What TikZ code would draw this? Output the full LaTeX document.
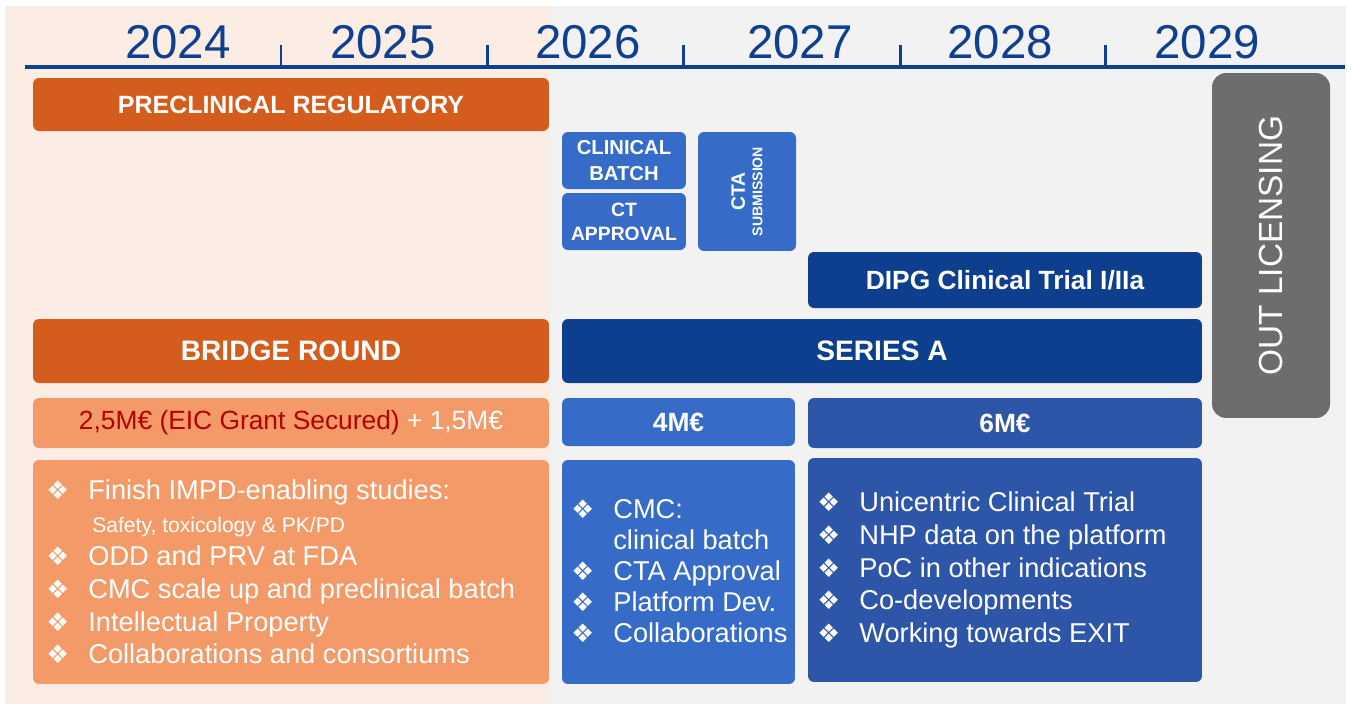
\documentclass[tikz,border=0pt]{standalone}
\usepackage{fontspec}
\setmainfont{Liberation Sans}
\newfontfamily\dejavu{DejaVu Sans}
\usepackage{tikz}
\usetikzlibrary{positioning}

\definecolor{PeachBg}{HTML}{FBEDE4}
\definecolor{GreyBg}{HTML}{F2F2F2}
\definecolor{RustOrange}{HTML}{D45D1E}
\definecolor{SoftOrange}{HTML}{F49A68}
\definecolor{MidBlue}{HTML}{366CC8}
\definecolor{NavyBlue}{HTML}{0E3F8E}
\definecolor{DeepBlue}{HTML}{2D56A8}
\definecolor{ExitGrey}{HTML}{6D6D6D}
\definecolor{YearBlue}{HTML}{0F3F8F}
\definecolor{GrantRed}{HTML}{B50000}

\newcommand{\itm}[1]{\makebox[0.84cm][l]{\dejavu\fontsize{14.5}{14.5}\selectfont ❖}#1}

\tikzset{
  blk/.style={rounded corners=0.12cm, inner sep=0pt, text=white, align=center},
  yearlbl/.style={text=YearBlue, inner sep=0pt, font=\fontsize{27}{27}\selectfont},
  listtxt/.style={anchor=west, inner sep=0pt, text=white, align=left},
}

\begin{document}
\begin{tikzpicture}[x=0.02cm, y=-0.02cm]
  \useasboundingbox (0,0) rectangle (1351,704);
  %
  % BACKGROUND
  \fill[PeachBg] (5,6) rectangle (550,704);
  \fill[GreyBg] (550,6) rectangle (1346,704);
  %
  % TIME AXIS
  \draw[YearBlue, line width=2.3pt] (25,67) -- (1345,67);
  \foreach \x in {281,487,683,900,1105}
    \draw[YearBlue, line width=1.7pt] (\x,45) -- (\x,67);
  \foreach \yr/\x in {2024/178,2025/383,2026/588,2027/800,2028/1000,2029/1207}
    \node[yearlbl] (y\yr) at (\x,42) {\yr};
  %
  % REGULATORY
  \node[blk, fill=RustOrange, minimum width=10.32cm, minimum height=1.06cm,
        font=\bfseries\fontsize{14.2}{14.2}\selectfont] (precl) at (291,104.5) {PRECLINICAL REGULATORY};
  \node[blk, fill=MidBlue, minimum width=2.48cm, minimum height=1.14cm,
        font=\bfseries\fontsize{11.5}{15}\selectfont] (batch) at (624,160.5) {CLINICAL\\BATCH};
  \node[blk, fill=MidBlue, minimum width=2.48cm, minimum height=1.14cm,
        font=\bfseries\fontsize{11}{13.6}\selectfont] (ctappr) at (624,221.5) {CT\\APPROVAL};
  \node[blk, fill=MidBlue, minimum width=1.96cm, minimum height=2.38cm] (cta) at (747,191.5) {};
  \node[text=white, inner sep=0pt, rotate=90, align=center,
        font=\bfseries\fontsize{11}{11}\selectfont] (ctatxt) at (cta.center)
        {CTA\\[-1pt]{\fontsize{8}{8}\selectfont SUBMISSION}};
  \node[blk, fill=NavyBlue, minimum width=7.88cm, minimum height=1.12cm,
        font=\bfseries\fontsize{15}{15}\selectfont] (dipg) at (1005,280) {DIPG Clinical Trial I/IIa};
  \node[blk, fill=ExitGrey, rounded corners=0.28cm, minimum width=2.36cm, minimum height=6.9cm] (exit) at (1271,245.5) {};
  \node[text=white, inner sep=0pt, rotate=90,
        font=\fontsize{19}{19}\selectfont] (exittxt) at (exit.center) {OUT LICENSING};
  %
  % FUNDING ROUNDS
  \node[blk, fill=RustOrange, minimum width=10.32cm, minimum height=1.28cm,
        font=\bfseries\fontsize{16}{16}\selectfont] (bridge) at (291,351) {BRIDGE ROUND};
  \node[blk, fill=NavyBlue, minimum width=12.8cm, minimum height=1.28cm,
        font=\bfseries\fontsize{16}{16}\selectfont] (seriesa) at (882,351) {SERIES A};
  %
  % AMOUNTS
  \node[blk, fill=SoftOrange, minimum width=10.32cm, minimum height=1.0cm,
        font=\fontsize{15}{15}\selectfont] (fund1) at (291,423)
        {\textcolor{GrantRed}{2,5M€ (EIC Grant Secured)} + 1,5M€};
  \node[blk, fill=MidBlue, minimum width=4.66cm, minimum height=0.96cm,
        font=\bfseries\fontsize{15}{15}\selectfont] (fund2) at (678.5,422) {4M€};
  \node[blk, fill=DeepBlue, minimum width=7.88cm, minimum height=1.0cm,
        font=\bfseries\fontsize{15}{15}\selectfont] (fund3) at (1005,423) {6M€};
  %
  % GOALS
  \node[blk, fill=SoftOrange, minimum width=10.32cm, minimum height=4.48cm] (goals1) at (291,572) {};
  \node[blk, fill=MidBlue, minimum width=4.66cm, minimum height=4.48cm] (goals2) at (678.5,572) {};
  \node[blk, fill=DeepBlue, minimum width=7.88cm, minimum height=4.48cm] (goals3) at (1005,570) {};
  %
  \node[listtxt, font=\fontsize{15.5}{18.7}\selectfont] (list1) at (46,572) {%
    \itm{Finish IMPD-enabling studies:}\\
    \hspace*{0.92cm}{\fontsize{12}{18.7}\selectfont Safety, toxicology \& PK/PD}\\
    \itm{ODD and PRV at FDA}\\
    \itm{CMC scale up and preclinical batch}\\
    \itm{Intellectual Property}\\
    \itm{Collaborations and consortiums}};
  \node[listtxt, font=\fontsize{15.5}{17.6}\selectfont] (list2) at (571,571) {%
    \itm{CMC:}\\
    \hspace*{0.84cm}clinical batch\\
    \itm{CTA Approval}\\
    \itm{Platform Dev.}\\
    \itm{Collaborations}};
  \node[listtxt, font=\fontsize{15.5}{18.7}\selectfont] (list3) at (817,570) {%
    \itm{Unicentric Clinical Trial}\\
    \itm{NHP data on the platform}\\
    \itm{PoC in other indications}\\
    \itm{Co-developments}\\
    \itm{Working towards EXIT}};
  %
\end{tikzpicture}
\end{document}
